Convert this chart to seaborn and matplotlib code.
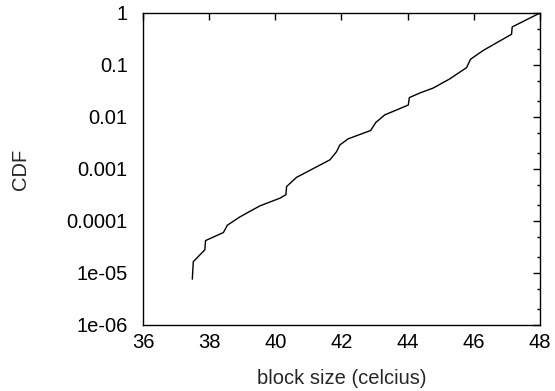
import numpy as np
import pandas as pd
import matplotlib
matplotlib.use("Agg")
import matplotlib.pyplot as plt
import seaborn as sns
from matplotlib.ticker import FixedLocator, NullFormatter

# values
temp = [37.49, 37.52, 37.87, 37.89, 38.43, 38.55, 38.93, 39.53, 40.14,
        40.32, 40.34, 40.64, 41.65, 41.85, 41.95, 42.2, 42.88, 43.04,
        43.31, 44.02, 44.05, 44.37, 44.77, 45.27, 45.78, 45.9, 46.28,
        47.14, 47.16, 48.0]
cdf = [7.6e-6, 1.65e-5, 2.8e-5, 4.2e-5, 6.0e-5, 8.3e-5, 1.2e-4, 1.95e-4, 2.75e-4,
       3.2e-4, 4.6e-4, 6.9e-4, 1.5e-3, 2.15e-3, 2.9e-3, 3.8e-3, 5.5e-3, 7.9e-3,
       0.011, 0.017, 0.0236, 0.029, 0.036, 0.054, 0.089, 0.129, 0.19,
       0.39, 0.54, 1.0]

xticks = [36, 38, 40, 42, 44, 46, 48]
yticks = [1e-6, 1e-5, 1e-4, 1e-3, 1e-2, 1e-1, 1]
ylabels = ["1e-06", "1e-05", "0.0001", "0.001", "0.01", "0.1", "1"]

df = pd.DataFrame({"temp": temp, "cdf": cdf})

sns.set_style("white")
plt.rcParams["font.family"] = ["Liberation Sans", "DejaVu Sans"]

fig = plt.figure(figsize=(5.55, 3.91), dpi=100)
ax = fig.add_axes([143/555, 66/391, 397/555, 312/391])

sns.lineplot(data=df, x="temp", y="cdf", color="black", linewidth=1, ax=ax)
ax.set_yscale("log")
ax.set_xlim(36, 48)
ax.set_ylim(1e-6, 1)

ax.set_xticks(xticks)
ax.set_xticklabels([str(t) for t in xticks])
ax.set_yticks(yticks)
ax.set_yticklabels(ylabels)
minors = [m * 10.0**e for e in range(-6, 0) for m in (2, 5)]
ax.yaxis.set_minor_locator(FixedLocator(minors))
ax.yaxis.set_minor_formatter(NullFormatter())

ax.tick_params(which="both", direction="in", top=True, right=True,
               labelsize=14.5, colors="black")
ax.tick_params(axis="x", pad=6)
ax.tick_params(axis="y", pad=11)
ax.tick_params(which="major", length=5, width=1)
ax.tick_params(which="minor", length=2.5, width=1)
for s in ax.spines.values():
    s.set_color("black")
    s.set_linewidth(1)

ax.set_xlabel("block size (celcius)", fontsize=14.5, labelpad=12)
ax.set_ylabel("CDF", fontsize=14.5, labelpad=26)

fig.savefig("out.png", dpi=100)
